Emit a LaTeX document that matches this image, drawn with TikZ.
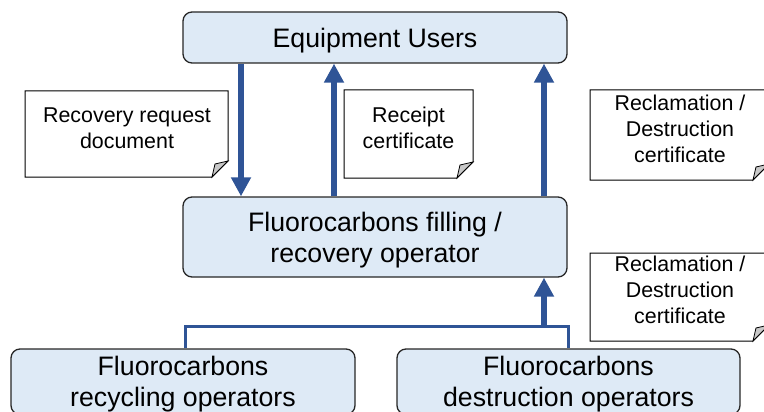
\documentclass[tikz,border=0pt]{standalone}
\usepackage{fontspec}
\setmainfont{Liberation Sans}
\usetikzlibrary{arrows.meta,calc}

\definecolor{boxfill}{RGB}{222,234,246}
\definecolor{boxline}{RGB}{38,38,38}
\definecolor{flowblue}{RGB}{47,84,150}
\definecolor{flapgray}{RGB}{200,200,200}

\tikzset{
  party/.style={draw=boxline, line width=1.3pt, fill=boxfill, rounded corners=9pt,
    inner sep=0pt, align=center, text depth=0pt,
    font=\fontsize{26.7}{31}\selectfont},
  notetext/.style={inner sep=0pt, align=center, text depth=0pt,
    font=\fontsize{21.4}{26}\selectfont},
  notepaper/.style={draw=black, line width=1pt, fill=white, line join=miter},
  flap/.style={draw=black, line width=0.8pt, fill=flapgray},
  flow/.style={draw=flowblue, line width=5.5pt,
    -{Triangle[width=19pt,length=19pt]}},
  bus/.style={draw=flowblue, line width=3pt},
}

% sheet of paper with a folded lower right corner: x1 y1 x2 y2 (y grows downwards)
\newcommand\foldednote[4]{%
  \draw[notepaper] (#1,#2) -- (#3,#2) -- (#3,#4-16) -- (#3-16,#4) -- (#1,#4) -- cycle;
  \draw[flap] (#3,#4-16) .. controls (#3-6,#4-15) .. (#3-13,#4-13)
    .. controls (#3-15,#4-7) .. (#3-16,#4) -- cycle;
}

\begin{document}
\begin{tikzpicture}[x=1pt, y=-1pt]
  \path[use as bounding box, clip] (0,0) rectangle (764,412);

  % organisations
  \node[party, minimum width=384pt, minimum height=51pt] (users) at (375,37.5) {Equipment Users};
  \node[party, minimum width=384pt, minimum height=80pt] (operator) at (375,237)
    {Fluorocarbons filling /\\recovery operator};
  \node[party, minimum width=344pt, minimum height=65.5pt] (recycle) at (183,381.75)
    {Fluorocarbons\\recycling operators};
  \node[party, minimum width=343pt, minimum height=65.5pt] (destroy) at (568.5,381.75)
    {Fluorocarbons\\destruction operators};

  % documents passed between them
  \foldednote{25}{91}{228}{177}
  \node[notetext] (request) at (127,127.7) {Recovery request\\document};
  \foldednote{344}{90}{473}{178}
  \node[notetext] (receipt) at (408.5,127.7) {Receipt\\certificate};
  \foldednote{590}{90}{769}{180}
  \node[notetext] (certA) at (680,128.4) {Reclamation /\\Destruction\\certificate};
  \foldednote{590}{253}{769}{341}
  \node[notetext] (certB) at (680,289.4) {Reclamation /\\Destruction\\certificate};

  % flows
  \draw[flow] ([xshift=-134pt]users.south) -- ([xshift=-134pt]operator.north);
  \draw[flow] ([xshift=-41pt]operator.north) -- ([xshift=-41pt]users.south);
  \draw[flow] ([xshift=169pt]operator.north) -- ([xshift=169pt]users.south);

  \coordinate (junc) at (544,326);
  \draw[bus] ([xshift=2pt]recycle.north) |- (junc) -| (destroy.north);
  \draw[flow] (junc) -- (junc |- operator.south);
\end{tikzpicture}
\end{document}
